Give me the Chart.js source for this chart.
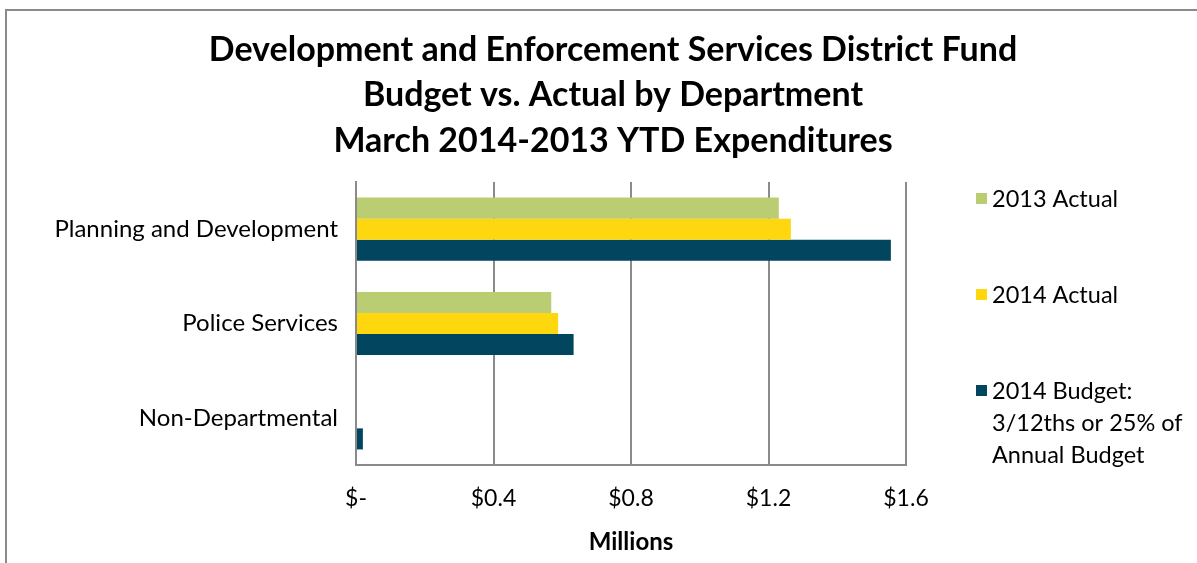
<!DOCTYPE html>
<html lang="en">
<head>
    <meta charset="UTF-8">
    <title>Budget vs. Actual by Department</title>
    <script src="https://cdn.jsdelivr.net/npm/chart.js"></script>
    <style>
        body { margin: 0; background: #fff; }
        #frame { position: absolute; left: 5px; top: 9px; width: 1300px; height: 700px;
                 border-top: 2px solid #8a8a8a; border-left: 2px solid #8a8a8a; }
        #wrap { position: absolute; left: 0; top: 0; width: 1197px; height: 563px; }
    </style>
</head>
<body>
    <div id="frame"></div>
    <div id="wrap"><canvas id="myChart"></canvas></div>

    <script>
        // values in millions of dollars
        const departments = ['Planning and Development', 'Police Services', 'Non-Departmental'];
        const actual2013 = [1.23, 0.568, 0];
        const actual2014 = [1.265, 0.588, 0];
        const budget2014 = [1.556, 0.633, 0.02];
        const seriesNames = ['2013 Actual', '2014 Actual', '2014 Budget:\n3/12ths or 25% of\nAnnual Budget'];
        const xTickLabels = ['$-', '$0.4', '$0.8', '$1.2', '$1.6'];
        const titleLines = [
            'Development and Enforcement Services District Fund',
            'Budget vs. Actual by Department',
            'March 2014-2013 YTD Expenditures'
        ];

        const FONT = 'Lato, "Open Sans", sans-serif';

        // title centred on the whole frame, and the legend on the right
        const frameText = {
            id: 'frameText',
            afterDraw(chart) {
                const ctx = chart.ctx;
                const area = chart.chartArea;
                ctx.save();
                ctx.textBaseline = 'middle';
                ctx.fillStyle = '#000';
                ctx.textAlign = 'center';
                ctx.font = 'bold 34px ' + FONT;
                titleLines.forEach((line, k) => ctx.fillText(line, 613, 50 + k * 45.5));

                ctx.textAlign = 'left';
                ctx.font = '23.5px ' + FONT;
                chart.data.datasets.forEach((ds, i) => {
                    const y = area.top + 17 + i * 96;
                    ctx.fillStyle = ds.backgroundColor;
                    ctx.fillRect(area.right + 70, y - 6, 11, 11);
                    ctx.fillStyle = '#000';
                    ds.label.split('\n').forEach((line, k) => {
                        ctx.fillText(line, area.right + 86, y + k * 32);
                    });
                });
                ctx.restore();
            }
        };

        const ctx = document.getElementById('myChart').getContext('2d');
        const myChart = new Chart(ctx, {
            type: 'bar',
            data: {
                labels: departments,
                datasets: [
                    { label: seriesNames[0], data: actual2013, backgroundColor: '#bbcd72' },
                    { label: seriesNames[1], data: actual2014, backgroundColor: '#fed70e' },
                    { label: seriesNames[2], data: budget2014, backgroundColor: '#02455f' }
                ]
            },
            options: {
                indexAxis: 'y',
                responsive: true,
                maintainAspectRatio: false,
                animation: false,
                layout: { padding: { left: 0, right: 291, top: 182, bottom: 0 } },
                datasets: { bar: { barPercentage: 1, categoryPercentage: 0.67 } },
                plugins: {
                    legend: { display: false },
                    tooltip: { enabled: false },
                    title: { display: false }
                },
                scales: {
                    x: {
                        min: 0,
                        max: 1.6,
                        ticks: {
                            stepSize: 0.4,
                            padding: 20,
                            color: '#000',
                            font: { family: FONT, size: 23 },
                            callback: (v, i) => xTickLabels[i]
                        },
                        grid: { color: '#8a8a8a', lineWidth: 2, drawTicks: false },
                        border: { display: true, color: '#8a8a8a', width: 2 },
                        title: {
                            display: true,
                            text: 'Millions',
                            color: '#000',
                            font: { family: FONT, size: 24, weight: 'bold' },
                            padding: { top: 0, bottom: 6 }
                        },
                        afterFit(scale) { scale.height = 98; }
                    },
                    y: {
                        ticks: {
                            padding: 18,
                            color: '#000',
                            font: { family: FONT, size: 24 }
                        },
                        grid: { display: false, drawTicks: false },
                        border: { display: true, color: '#8a8a8a', width: 2 },
                        afterFit(scale) { scale.width = 356; }
                    }
                }
            },
            plugins: [frameText]
        });
    </script>
</body>
</html>
